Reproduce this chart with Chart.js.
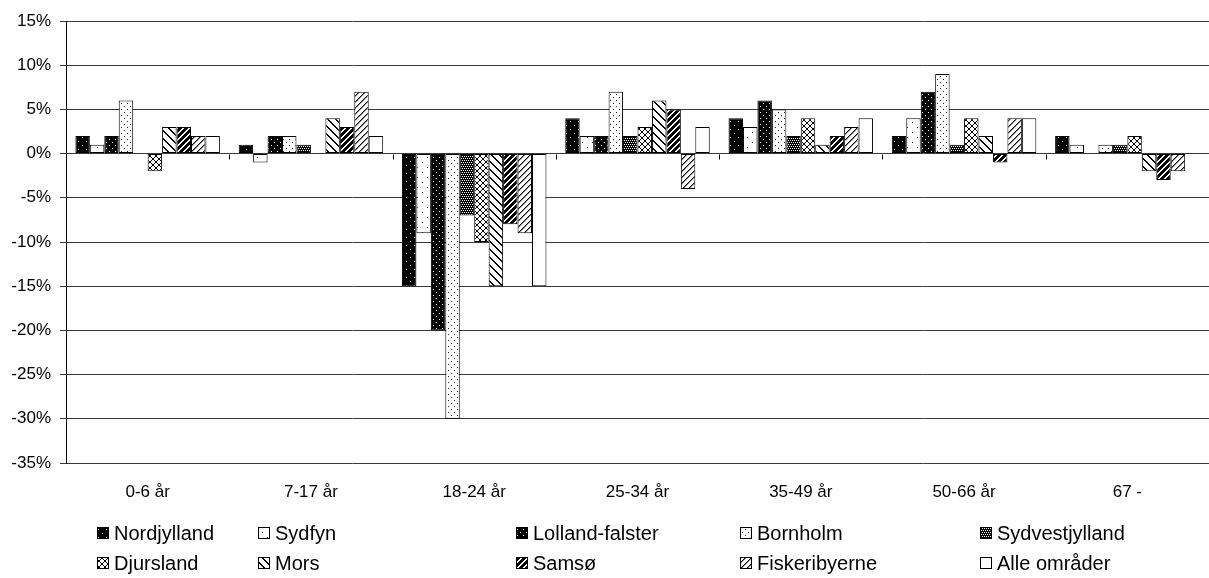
<!DOCTYPE html>
<html>
<head>
<meta charset="utf-8">
<script src="https://cdn.jsdelivr.net/npm/chart.js@4/dist/chart.umd.min.js"></script>
<style>
  body { margin: 0; background: #fff; }
  canvas { display: block; }
</style>
</head>
<body>
<canvas id="ageChart" width="1209" height="578"></canvas>
<script>
// age groups on the x axis
const ageGroups = ['0-6 år', '7-17 år', '18-24 år', '25-34 år', '35-49 år', '50-66 år', '67 -'];

// change per area, in percent
const nordjylland    = [2, 1, -15, 4, 4, 2, 2];
const sydfyn         = [1, -1, -9, 2, 3, 4, 1];
const lollandFalster = [2, 2, -20, 2, 6, 7, 0];
const bornholm       = [6, 2, -30, 7, 5, 9, 1];
const sydvestjylland = [0, 1, -7, 2, 2, 1, 1];
const djursland      = [-2, 0, -10, 3, 4, 4, 2];
const mors           = [3, 4, -15, 6, 1, 2, -2];
const samso          = [3, 3, -8, 5, 2, -1, -3];
const fiskeribyerne  = [2, 7, -9, -4, 3, 4, -2];
const alleOmrader    = [2, 2, -15, 3, 4, 4, 0];

const areaNames = ['Nordjylland', 'Sydfyn', 'Lolland-falster', 'Bornholm', 'Sydvestjylland',
                   'Djursland', 'Mors', 'Samsø', 'Fiskeribyerne', 'Alle områder'];
const areaValues = [nordjylland, sydfyn, lollandFalster, bornholm, sydvestjylland,
                    djursland, mors, samso, fiskeribyerne, alleOmrader];

const yTicks = [-35, -30, -25, -20, -15, -10, -5, 0, 5, 10, 15];

// small pixel tiles for the black/white fill patterns
function tile(size, bg, fg, isFg) {
    const c = document.createElement('canvas');
    c.width = size; c.height = size;
    const g = c.getContext('2d');
    g.fillStyle = bg;
    g.fillRect(0, 0, size, size);
    for (let y = 0; y < size; y++) {
        for (let x = 0; x < size; x++) {
            const f = isFg(x, y);
            if (f) {
                g.fillStyle = typeof f === 'string' ? f : fg;
                g.fillRect(x, y, 1, 1);
            }
        }
    }
    return g.createPattern(c, 'repeat');
}

const fills = [
    tile(8, '#000', '#fff', (x, y) => (x == 2 && y == 1) || (x == 6 && y == 5)),
    tile(10, '#fff', '#000', (x, y) => (x == 2 && y == 2) || (x == 7 && y == 7)),
    tile(6, '#000', '#fff', (x, y) => (x == 1 && y == 1) || (x == 4 && y == 4)),
    tile(6, '#fff', '#222', (x, y) => (x == 1 && y == 1) || (x == 4 && y == 4)),
    tile(4, '#000', '#fff', (x, y) => (y == 0 && x % 2 == 0) || (y == 2 && x % 2 == 1)),
    tile(6, '#fff', '#000', (x, y) => x == y || x == 5 - y),
    tile(8, '#fff', '#000', (x, y) => ((x - y) & 7) < 2),
    tile(6, '#000', '#fff', (x, y) => (x + y) % 6 >= 4),
    tile(6, '#fff', '#000', (x, y) => (x + y) % 6 == 0 ? '#000' : ((x + y) % 6 == 1 ? '#888' : false)),
    '#fff'
];

// two-row legend like the original, five columns
const legendCols = [97, 258, 516, 740, 980];
const legendRows = [533, 563];

const gridLegend = {
    id: 'gridLegend',
    afterDraw(chart) {
        const ctx = chart.ctx;
        ctx.save();
        ctx.font = '20px "Liberation Sans", Arial, sans-serif';
        ctx.textBaseline = 'middle';
        ctx.textAlign = 'left';
        chart.data.datasets.forEach((ds, i) => {
            const x = legendCols[i % 5];
            const y = legendRows[Math.floor(i / 5)];
            ctx.fillStyle = ds.backgroundColor;
            ctx.fillRect(x, y - 6, 12, 12);
            ctx.strokeStyle = '#000';
            ctx.lineWidth = 1;
            ctx.strokeRect(x + 0.5, y - 5.5, 11, 11);
            ctx.fillStyle = '#000';
            ctx.fillText(ds.label, x + 17, y + 1);
        });
        ctx.restore();
    }
};

// tick marks on the zero line between the age groups
const zeroTicks = {
    id: 'zeroTicks',
    afterDatasetsDraw(chart) {
        const ctx = chart.ctx;
        const area = chart.chartArea;
        const y0 = Math.round(chart.scales.y.getPixelForValue(0)) + 0.5;
        const step = (area.right - area.left) / ageGroups.length;
        ctx.save();
        ctx.strokeStyle = '#000';
        ctx.lineWidth = 1;
        for (let i = 1; i < ageGroups.length; i++) {
            const x = Math.round(area.left + i * step) + 0.5;
            ctx.beginPath();
            ctx.moveTo(x, y0);
            ctx.lineTo(x, y0 + 5);
            ctx.stroke();
        }
        ctx.restore();
    }
};

const ctx = document.getElementById('ageChart');
new Chart(ctx, {
    type: 'bar',
    data: {
        labels: ageGroups,
        datasets: areaNames.map((name, i) => ({
            label: name,
            data: areaValues[i],
            backgroundColor: fills[i],
            borderColor: '#000',
            borderWidth: 1,
            borderSkipped: false,
            categoryPercentage: 0.885,
            barPercentage: 1.0
        }))
    },
    options: {
        responsive: false,
        animation: false,
        layout: { padding: { top: 21, right: 0, bottom: 0, left: 0 } },
        plugins: {
            legend: { display: false },
            tooltip: { enabled: false }
        },
        scales: {
            x: {
                grid: { display: false, drawTicks: false },
                border: { display: false },
                ticks: {
                    color: '#000',
                    padding: 19,
                    font: { family: '"Liberation Sans", Arial, sans-serif', size: 17 }
                },
                afterFit: (scale) => { scale.height = 115; }
            },
            y: {
                min: -35,
                max: 15,
                afterBuildTicks: (scale) => { scale.ticks = yTicks.map(v => ({ value: v })); },
                grid: { color: '#3a3a3a', lineWidth: 1, tickLength: 6 },
                border: { color: '#000', width: 1 },
                ticks: {
                    color: '#000',
                    padding: 9,
                    font: { family: '"Liberation Sans", Arial, sans-serif', size: 17 },
                    callback: (v) => v + '%'
                },
                afterFit: (scale) => { scale.width = 66; }
            }
        }
    },
    plugins: [zeroTicks, gridLegend]
});
</script>
</body>
</html>
